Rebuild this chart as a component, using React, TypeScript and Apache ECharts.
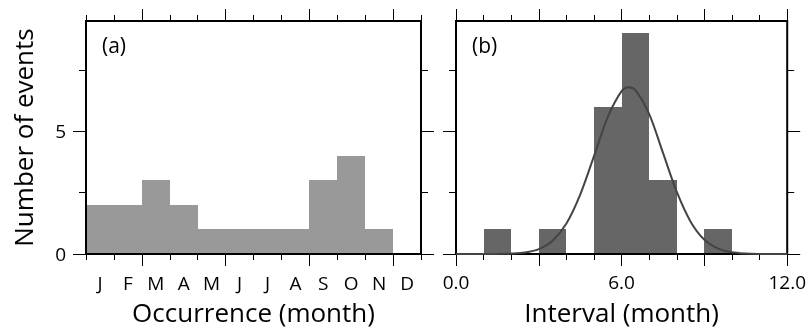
import React, { useEffect, useRef } from "react";
import * as echarts from "echarts";

const months = ["J", "F", "M", "A", "M", "J", "J", "A", "S", "O", "N", "D"];
const occurrenceCounts = [2, 2, 3, 2, 1, 1, 1, 1, 3, 4, 1, 0];

const intervalBinStarts = [1, 3, 5, 6, 7, 9];
const intervalBinEnds = [2, 4, 6, 7, 8, 10];
const intervalBinCounts = [1, 1, 6, 9, 3, 1];

const fitX = [0, 0.5, 1, 1.5, 2, 2.5, 3, 3.5, 4, 4.5, 5, 5.5, 6, 6.25, 6.5, 7, 7.5, 8, 8.5, 9, 9.5, 10, 10.5, 11, 11.5, 12];
const fitY = [0, 0, 0, 0.004, 0.016, 0.06, 0.2, 0.54, 1.24, 2.42, 3.99, 5.59, 6.64, 6.8, 6.68, 5.7, 4.12, 2.53, 1.32, 0.58, 0.22, 0.07, 0.02, 0.004, 0, 0];

const monthMajorTicks = [2, 5, 8, 11];
const intervalMajorTicks = [0, 3, 6, 9, 12];
const intervalLabels = [0, 6, 12];
const yMinorTicks = [0, 2.5, 5, 7.5];
const yMajorTicks = [0, 5];

const FONT = "Open Sans";
const INK = "#000";

export default function App() {
  const ref = useRef<HTMLDivElement>(null);
  useEffect(() => {
    if (!ref.current) return;
    const chart = echarts.init(ref.current, null, { renderer: "svg" });

    const tickStyle = { color: "#000", width: 1 };
    const hiddenLine = { show: false, onZero: false };

    const valueX = (grid: number, pos: string, len: number, opts: any) => ({
      type: "value",
      gridIndex: grid,
      position: pos,
      min: 0,
      max: 12,
      interval: 1,
      axisLine: hiddenLine,
      splitLine: { show: false },
      axisTick: { show: true, length: len, lineStyle: tickStyle, ...(opts.tick || {}) },
      axisLabel: opts.label || { show: false },
      ...(opts.extra || {}),
    });

    const valueY = (grid: number, pos: string, len: number, ticks: number[], opts: any) => ({
      type: "value",
      gridIndex: grid,
      position: pos,
      min: 0,
      max: 9.5,
      interval: 2.5,
      axisLine: hiddenLine,
      splitLine: { show: false },
      axisTick: { show: true, length: len, lineStyle: tickStyle, customValues: ticks },
      axisLabel: opts.label || { show: false },
      ...(opts.extra || {}),
    });

    const nameStyle = { fontSize: 26, lineHeight: 26, fontFamily: FONT, color: INK };
    const labelBase = { fontSize: 19, lineHeight: 19, fontFamily: FONT, color: INK };

    const xAxes: any[] = [];
    const yAxes: any[] = [];

    // grid 0 x axes
    xAxes.push(valueX(0, "bottom", 6, {})); // 0
    xAxes.push(valueX(0, "bottom", 12, { tick: { customValues: monthMajorTicks } })); // 1
    xAxes.push(valueX(0, "top", 6, {})); // 2
    xAxes.push(valueX(0, "top", 12, { tick: { customValues: monthMajorTicks } })); // 3
    xAxes.push({
      type: "category",
      gridIndex: 0,
      position: "bottom",
      data: months,
      boundaryGap: true,
      axisLine: hiddenLine,
      axisTick: { show: false },
      splitLine: { show: false },
      axisLabel: { show: true, margin: 19, interval: 0, ...labelBase },
      name: "Occurrence (month)",
      nameLocation: "middle",
      nameGap: 45,
      nameTextStyle: nameStyle,
    }); // 4
    // grid 1 x axes
    xAxes.push(valueX(1, "bottom", 6, {})); // 5
    xAxes.push(
      valueX(1, "bottom", 12, {
        tick: { customValues: intervalMajorTicks },
        label: {
          show: true,
          customValues: intervalLabels,
          formatter: (v: number) => v.toFixed(1),
          margin: 18,
          ...labelBase,
        },
        extra: {
          name: "Interval (month)",
          nameLocation: "middle",
          nameGap: 45,
          nameTextStyle: nameStyle,
        },
      })
    ); // 6
    xAxes.push(valueX(1, "top", 6, {})); // 7
    xAxes.push(valueX(1, "top", 12, { tick: { customValues: intervalMajorTicks } })); // 8

    // y axes
    yAxes.push(valueY(0, "left", 7, yMinorTicks, {})); // 0
    yAxes.push(
      valueY(0, "left", 13, yMajorTicks, {
        label: { show: true, customValues: yMajorTicks, margin: 20, ...labelBase },
        extra: {
          name: "Number of events",
          nameLocation: "middle",
          nameGap: 50,
          nameTextStyle: nameStyle,
        },
      })
    ); // 1
    yAxes.push(valueY(0, "right", 7, yMinorTicks, {})); // 2
    yAxes.push(valueY(0, "right", 13, yMajorTicks, {})); // 3
    yAxes.push(valueY(1, "left", 7, yMinorTicks, {})); // 4
    yAxes.push(valueY(1, "left", 13, yMajorTicks, {})); // 5
    yAxes.push(valueY(1, "right", 7, yMinorTicks, {})); // 6
    yAxes.push(valueY(1, "right", 13, yMajorTicks, {})); // 7

    const renderBin = (color: string) => (params: any, api: any) => {
      const p0 = api.coord([api.value(0), api.value(2)]);
      const p1 = api.coord([api.value(1), 0]);
      const x0 = Math.round(p0[0]);
      const x1 = Math.round(p1[0]);
      const y0 = Math.round(p0[1]);
      const y1 = p1[1];
      return {
        type: "rect",
        shape: { x: x0, y: y0, width: x1 - x0, height: y1 - y0 },
        style: { fill: color },
      };
    };

    const occData = occurrenceCounts.map((c, i) => [i, i + 1, c]);
    const intData = intervalBinCounts.map((c, i) => [intervalBinStarts[i], intervalBinEnds[i], c]);

    chart.setOption({
      animation: false,
      grid: [
        { left: 86, top: 21, width: 335, height: 235, show: true, borderColor: "#000", borderWidth: 2, backgroundColor: "transparent", z: 3 },
        { left: 456, top: 21, width: 335, height: 235, show: true, borderColor: "#000", borderWidth: 2, backgroundColor: "transparent", z: 3 },
      ],
      xAxis: xAxes,
      yAxis: yAxes,
      graphic: [
        { type: "text", left: 102, top: 34, style: { text: "(a)", fontSize: 21, fontFamily: FONT, fill: INK } },
        { type: "text", left: 472, top: 34, style: { text: "(b)", fontSize: 21, fontFamily: FONT, fill: INK } },
      ],
      series: [
        {
          type: "custom",
          xAxisIndex: 0,
          yAxisIndex: 0,
          renderItem: renderBin("#999999"),
          encode: { x: [0, 1], y: 2 },
          data: occData,
          clip: false,
          z: 1,
        },
        {
          type: "custom",
          xAxisIndex: 5,
          yAxisIndex: 4,
          renderItem: renderBin("#666666"),
          encode: { x: [0, 1], y: 2 },
          data: intData,
          clip: false,
          z: 1,
        },
        {
          type: "line",
          xAxisIndex: 5,
          yAxisIndex: 4,
          data: fitX.map((x, i) => [x, fitY[i]]),
          smooth: 0.3,
          showSymbol: false,
          symbol: "none",
          clip: false,
          lineStyle: { color: "#444444", width: 2 },
          z: 5,
        },
      ],
    });
    return () => chart.dispose();
  }, []);
  return <div ref={ref} style={{ position: "fixed", left: 0, top: 0, width: 809, height: 330 }} />;
}
